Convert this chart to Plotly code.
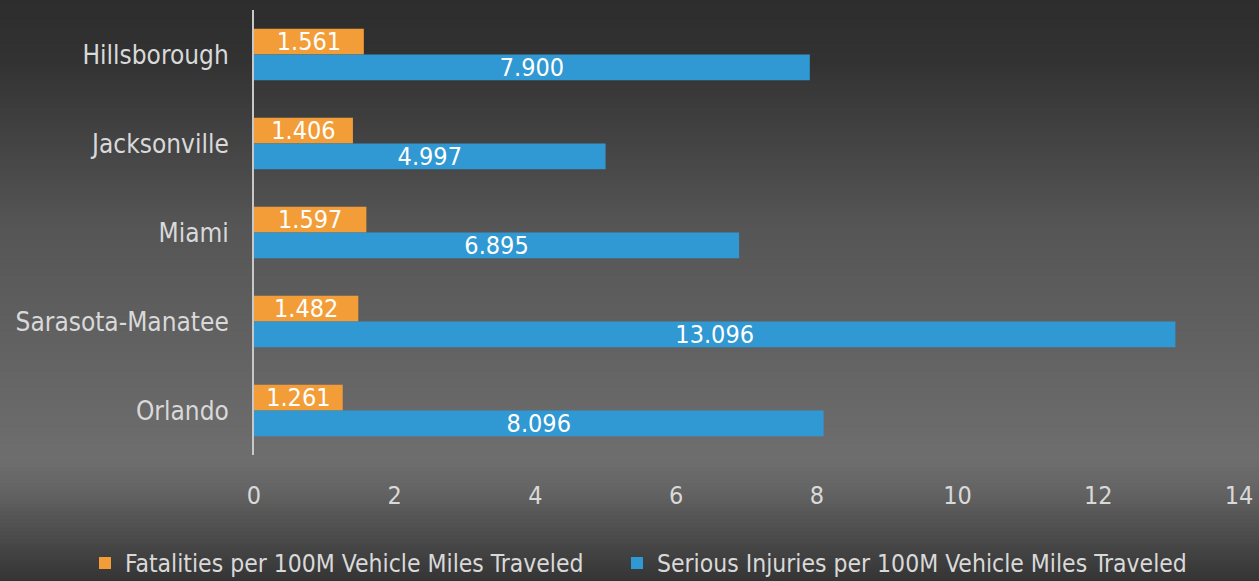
import plotly.graph_objects as go

cities = ["Hillsborough", "Jacksonville", "Miami", "Sarasota-Manatee", "Orlando"]
fatalities = [1.561, 1.406, 1.597, 1.482, 1.261]
injuries = [7.900, 4.997, 6.895, 13.096, 8.096]
series_names = ["Fatalities per 100M Vehicle Miles Traveled",
                "Serious Injuries per 100M Vehicle Miles Traveled"]
x_ticks = [0, 2, 4, 6, 8, 10, 12, 14]

FONT = "Noto Sans SemiCondensed, Noto Sans Condensed, DejaVu Sans Condensed, sans-serif"
ORANGE = "#F29D38"
BLUE = "#3098D2"
TXT = "#D9D9D9"

fig = go.Figure()
for name, vals, col, lg in [(series_names[0], fatalities, ORANGE, "legend"),
                            (series_names[1], injuries, BLUE, "legend2")]:
    fig.add_trace(go.Bar(
        y=cities, x=vals, name=name, orientation="h", legend=lg,
        marker=dict(color=col, line=dict(width=0)),
        text=[f"{v:.3f}" for v in vals],
        textposition="inside", insidetextanchor="middle", textangle=0,
        constraintext="none",
        textfont=dict(family=FONT, size=25, color="white"),
        cliponaxis=False,
    ))

# background vertical gradient built from thin bands
W, H = 1259, 581
pt, pb = 10, 455
ph = pb - pt
stops = [(0, (45, 45, 45)), (60, (50, 50, 50)), (225, (85, 85, 85)),
         (460, (110, 110, 110)), (490, (100, 100, 100)), (581, (52, 52, 52))]
shapes = []
step = 4
for y0 in range(0, H, step):
    yc = y0 + step / 2
    c = stops[-1][1]
    for i in range(len(stops) - 1):
        a, ca = stops[i]
        b, cb = stops[i + 1]
        if a <= yc <= b:
            t = (yc - a) / (b - a)
            c = tuple(int(round(ca[k] + (cb[k] - ca[k]) * t)) for k in range(3))
            break
    py0 = (pb - (y0 + step + 0.5)) / ph
    py1 = (pb - (y0 - 0.5)) / ph
    shapes.append(dict(type="rect", xref="paper", yref="paper",
                       x0=-0.3, x1=1.1, y0=py0, y1=py1,
                       fillcolor="rgb(%d,%d,%d)" % c, line=dict(width=0),
                       layer="below"))

legend_common = dict(orientation="h", xref="container", yref="container",
                     y=1 - 563 / H, yanchor="middle", xanchor="left",
                     font=dict(size=24.5, color=TXT, family=FONT),
                     bgcolor="rgba(0,0,0,0)", borderwidth=0)

fig.update_layout(
    width=W, height=H,
    margin=dict(l=254, r=20, t=pt, b=H - pb, autoexpand=False),
    paper_bgcolor="#404040", plot_bgcolor="rgba(0,0,0,0)",
    barmode="group", bargap=0.42, bargroupgap=0,
    font=dict(family=FONT, color=TXT),
    shapes=shapes,
    showlegend=True,
    legend=dict(x=(125 - 40) / W, **legend_common),
    legend2=dict(x=(657 - 40) / W, **legend_common),
    xaxis=dict(range=[0, 14], tickvals=x_ticks, showgrid=False, zeroline=False,
               showline=False, ticks="", ticklabelstandoff=23, automargin=False,
               tickfont=dict(size=25, color=TXT, family=FONT)),
    yaxis=dict(autorange="reversed", showgrid=False, zeroline=False,
               showline=True, linecolor="#C8C8C8", linewidth=2,
               ticks="", ticklabelstandoff=18, automargin=False,
               tickfont=dict(size=26, color=TXT, family=FONT)),
)

fig.write_html("out.html", config={"displayModeBar": False},
               post_script="document.body.style.margin='0';")
